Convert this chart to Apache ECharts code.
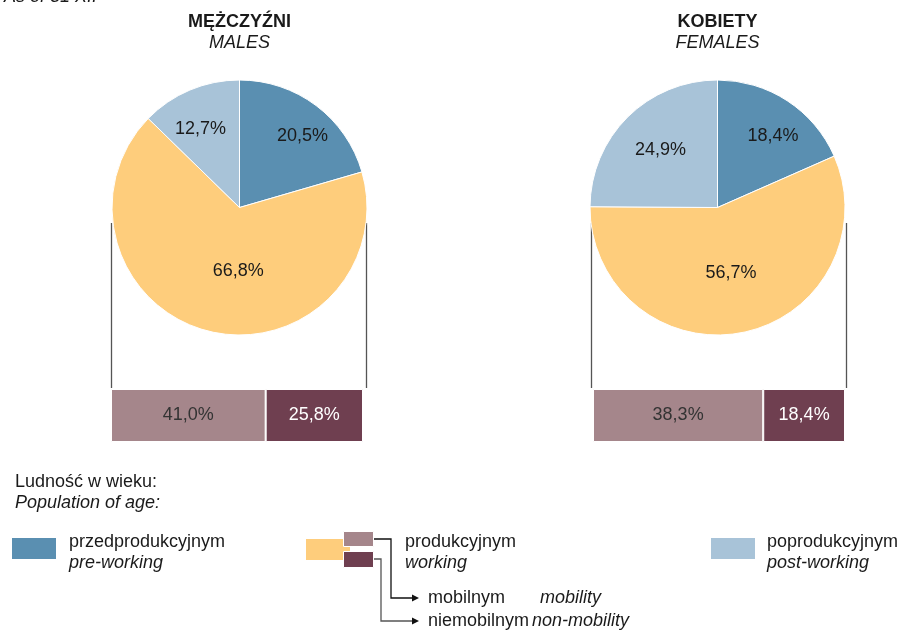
<!DOCTYPE html>
<html>
<head>
<meta charset="utf-8">
<script src="https://cdn.jsdelivr.net/npm/echarts@6/dist/echarts.min.js"></script>
<style>
  html, body { margin: 0; padding: 0; background: #fff; }
  #chart { width: 904px; height: 633px; }
</style>
</head>
<body>
<div id="chart"></div>
<script>
// dane
const groupTitles = ['MĘŻCZYŹNI', 'KOBIETY']
const groupTitlesEn = ['MALES', 'FEMALES']
const ageGroups = ['przedprodukcyjnym', 'produkcyjnym', 'poprodukcyjnym']
const ageGroupsEn = ['pre-working', 'working', 'post-working']
const malesAge = [20.5, 66.8, 12.7]
const femalesAge = [18.4, 56.7, 24.9]
const workingGroups = ['mobilnym', 'niemobilnym']
const workingGroupsEn = ['mobility', 'non-mobility']
const malesWorking = [41.0, 25.8]
const femalesWorking = [38.3, 18.4]

const FONT = '"Liberation Sans", Arial, sans-serif'
const pieColors = ['#5a8fb1', '#fecd7c', '#a8c3d8']
const barColors = ['#a5868b', '#6f3f50']
const pieCenters = [[239.5, 207.5], [717.5, 207.5]]
const pieRadius = 127.5
// przesunięcia etykiet jak w oryginale (excel "best fit")
const labelShift = [
  [[23, -18], [15, -1], [-13, -17]],
  [[19, -16], [0, 0], [-10, -10]]
]

const fmt = v => v.toFixed(1).replace('.', ',') + '%'
const sum = a => a.reduce((s, v) => s + v, 0)

const chart = echarts.init(document.getElementById('chart'))

const pieSeries = [malesAge, femalesAge].map((vals, g) => ({
  type: 'pie',
  center: pieCenters[g],
  radius: pieRadius,
  startAngle: 90,
  clockwise: true,
  silent: true,
  data: vals.map((v, i) => ({ name: ageGroups[i], value: v, itemStyle: { color: pieColors[i] } })),
  itemStyle: { borderColor: '#fff', borderWidth: 1 },
  label: {
    show: true,
    position: 'inside',
    formatter: p => fmt(p.value),
    fontFamily: FONT,
    fontSize: 18,
    color: '#1a1a1a'
  },
  labelLine: { show: false },
  labelLayout: p => ({ dx: labelShift[g][p.dataIndex][0], dy: labelShift[g][p.dataIndex][1] })
}))

const barSeries = []
;[malesWorking, femalesWorking].forEach((vals, g) => {
  vals.forEach((v, i) => {
    barSeries.push({
      type: 'bar',
      name: workingGroups[i],
      xAxisIndex: g,
      yAxisIndex: g,
      stack: 'w' + g,
      barWidth: '100%',
      silent: true,
      data: [v],
      itemStyle: { color: barColors[i], borderColor: '#fff', borderWidth: 1 },
      label: {
        show: true,
        position: 'inside',
        formatter: p => fmt(p.value),
        fontFamily: FONT,
        fontSize: 18,
        color: i === 0 ? '#333' : '#fff'
      }
    })
  })
})

function txt (x, y, text, opts) {
  opts = opts || {}
  return {
    type: 'text',
    x: x,
    y: y,
    silent: true,
    style: {
      text: text,
      font: (opts.italic ? 'italic ' : '') + (opts.bold ? 'bold ' : '') + '18px ' + FONT,
      fill: opts.color || '#1a1a1a',
      align: opts.align || 'left',
      textAlign: opts.align || 'left',
      verticalAlign: 'middle',
      textVerticalAlign: 'middle'
    }
  }
}
function box (x, y, w, h, color, stroke) {
  return {
    type: 'rect',
    silent: true,
    shape: { x: x, y: y, width: w, height: h },
    style: { fill: color, stroke: stroke || null, lineWidth: stroke ? 1 : 0 }
  }
}
function line (pts, color) {
  return {
    type: 'polyline',
    silent: true,
    shape: { points: pts },
    style: { stroke: color, lineWidth: 1.3, fill: null }
  }
}
function arrow (x, y) {
  return {
    type: 'polygon',
    silent: true,
    shape: { points: [[x - 7, y - 3.5], [x, y], [x - 7, y + 3.5]] },
    style: { fill: '#111' }
  }
}

const graphics = [
  txt(4, -3, 'As of 31 XII', { italic: true }),
  txt(pieCenters[0][0], 22, groupTitles[0], { bold: true, align: 'center' }),
  txt(pieCenters[0][0], 43, groupTitlesEn[0], { italic: true, align: 'center' }),
  txt(pieCenters[1][0], 22, groupTitles[1], { bold: true, align: 'center' }),
  txt(pieCenters[1][0], 43, groupTitlesEn[1], { italic: true, align: 'center' }),
  // łączniki koło -> pasek
  line([[111.5, 223], [111.5, 388]], '#555'),
  line([[366.5, 223], [366.5, 388]], '#555'),
  line([[591.5, 223], [591.5, 388]], '#555'),
  line([[846.5, 223], [846.5, 388]], '#555'),
  // legenda
  txt(15, 482, 'Ludność w wieku:'),
  txt(15, 503, 'Population of age:', { italic: true }),
  box(12, 538, 44, 21, pieColors[0]),
  txt(69, 542, ageGroups[0]),
  txt(69, 563, ageGroupsEn[0], { italic: true }),
  box(306, 539, 44, 21, pieColors[1]),
  box(343.5, 531.5, 30, 15, barColors[0], '#fff'),
  box(343.5, 551.5, 30, 16, barColors[1], '#fff'),
  line([[374, 539], [391, 539], [391, 598], [413, 598]], '#111'),
  arrow(419, 598),
  line([[374, 559], [381, 559], [381, 621], [413, 621]], '#555'),
  arrow(419, 621),
  txt(405, 542, ageGroups[1]),
  txt(405, 563, ageGroupsEn[1], { italic: true }),
  txt(428, 598, workingGroups[0]),
  txt(540, 598, workingGroupsEn[0], { italic: true }),
  txt(428, 621, workingGroups[1]),
  txt(532, 621, workingGroupsEn[1], { italic: true }),
  box(711, 538, 44, 21, pieColors[2]),
  txt(767, 542, ageGroups[2]),
  txt(767, 563, ageGroupsEn[2], { italic: true })
]

chart.setOption({
  animation: false,
  backgroundColor: '#fff',
  grid: [
    { left: 111, top: 389, width: 252, height: 53 },
    { left: 593, top: 389, width: 252, height: 53 }
  ],
  xAxis: [
    { gridIndex: 0, type: 'value', min: 0, max: sum(malesWorking), show: false },
    { gridIndex: 1, type: 'value', min: 0, max: sum(femalesWorking), show: false }
  ],
  yAxis: [
    { gridIndex: 0, type: 'category', data: ['M'], show: false },
    { gridIndex: 1, type: 'category', data: ['K'], show: false }
  ],
  series: pieSeries.concat(barSeries),
  graphic: graphics
})
</script>
</body>
</html>
